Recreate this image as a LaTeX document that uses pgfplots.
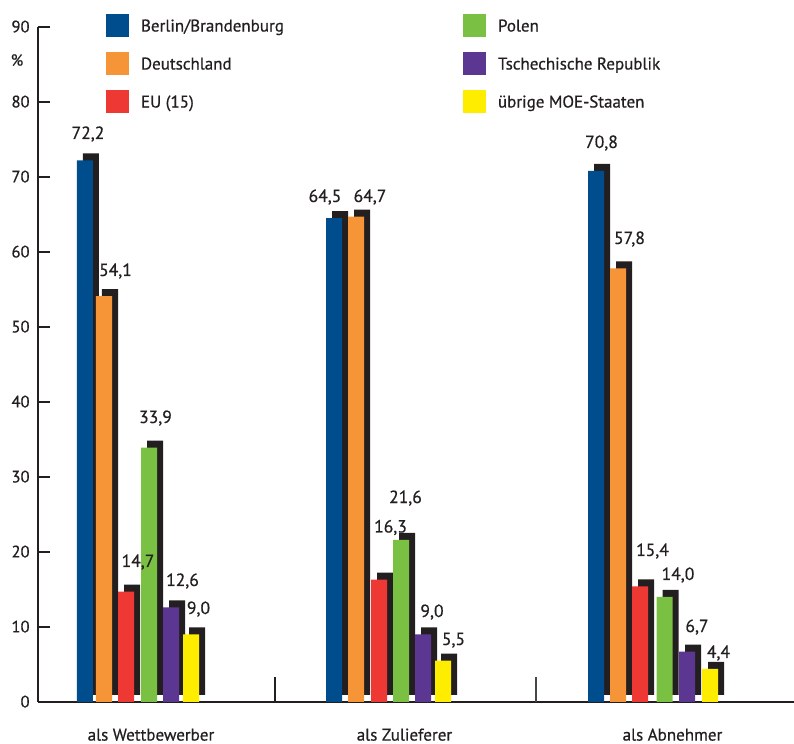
\documentclass[border=0pt]{standalone}
\usepackage{fontspec}
\setmainfont{PT Sans}[FakeBold=0.6]
\usepackage{pgfplots}
\usepackage{pgfplotstable}
\pgfplotsset{compat=1.18}
\definecolor{cBlue}{RGB}{0,77,141}
\definecolor{cOrange}{RGB}{246,148,56}
\definecolor{cRed}{RGB}{237,56,51}
\definecolor{cGreen}{RGB}{122,193,67}
\definecolor{cPurple}{RGB}{92,55,146}
\definecolor{cYellow}{RGB}{255,237,0}
\definecolor{cShadow}{RGB}{35,31,32}
\definecolor{cText}{RGB}{35,31,32}
\definecolor{cSep}{RGB}{70,70,70}

% x = horizontal position (pixel units of the layout), y = percent
\pgfplotstableread{
x y
85 72.2
334 64.5
596 70.8
}\tBerlin
\pgfplotstableread{
x y
104 54.1
356 64.7
618 57.8
}\tDeutschland
\pgfplotstableread{
x y
126 14.7
379 16.3
640 15.4
}\tEU
\pgfplotstableread{
x y
149 33.9
401 21.6
664.5 14.0
}\tPolen
\pgfplotstableread{
x y
171 12.6
423 9.0
687 6.7
}\tTschechien
\pgfplotstableread{
x y
191 9.0
443 5.5
710 4.4
}\tUebrige
% value labels: position and printed value
\pgfplotstableread{
x y v
88 75.07 72.2
115.5 56.8 54.1
138 18.0 14.7
155.5 37.2 33.9
182.5 15.47 12.6
198.5 11.73 9.0
325 66.67 64.5
370 66.67 64.7
390.5 22.6 16.3
405.5 26.53 21.6
432 11.33 9.0
453.5 7.6 5.5
601.5 73.87 70.8
629.5 61.07 57.8
652.5 19.47 15.4
678 16.27 14.0
697 9.33 6.7
718.5 5.87 4.4
}\tLabels

\pgfplotsset{
  colbar/.style={ybar, bar width=8pt, bar shift=0pt, draw=none, fill=#1, forget plot},
  shadbar/.style={ybar, bar width=8pt, bar shift=0pt, draw=none, fill=cShadow, xshift=3pt, yshift=3.5pt, forget plot},
}

\begin{document}
\begin{tikzpicture}
\useasboundingbox (-19pt,-21pt) rectangle (378pt,351pt);
\begin{axis}[
  at={(0,0)}, anchor=south west,
  scale only axis, width=378pt, height=337.5pt,
  xmin=38, xmax=794, ymin=0, ymax=90,
  clip=false,
  axis x line*=bottom, axis y line*=left,
  axis line style={cText, line width=0.8pt},
  ytick={0,10,...,90},
  ytick align=inside,
  major tick length=6pt,
  tick style={cText, line width=0.8pt},
  /pgf/number format/assume math mode=true,
  yticklabel style={font=\fontsize{8.3}{10}\selectfont, text=cText, inner sep=0pt, anchor=base east, xshift=-4pt, yshift=-2.7pt},
  xtick={151,404.5,672.5},
  xticklabels={als Wettbewerber, als Zulieferer, als Abnehmer},
  major x tick style={draw=none},
  xticklabel style={font=\fontsize{8.5}{10}\selectfont, text=cText, inner sep=0pt, anchor=base, yshift=-19.3pt},
  ylabel={\%},
  every axis y label/.style={at={(axis description cs:-0.0278,0.951)}, anchor=center, font=\fontsize{8}{10}\selectfont, text=cText},
  legend columns=2, legend cell align=left,
  legend image code/.code={\path[draw=none, fill=none] (0pt,-5.75pt) rectangle (17.5pt,5.75pt); \fill[#1] (0pt,-5.75pt) rectangle (11.5pt,5.75pt);},
  legend style={at={(axis cs:106,91.73)}, anchor=north west, draw=none, fill=none, inner sep=0pt, outer sep=0pt, row sep=7.5pt, font=\fontsize{8.5}{10}\selectfont, text=cText, nodes={inner sep=0pt, text height=6pt, text depth=0pt}},
]
\addlegendimage{fill=cBlue, draw=none}
\addlegendentry{\makebox[161pt][l]{Berlin/Brandenburg}}
\addlegendimage{fill=cGreen, draw=none}
\addlegendentry{Polen}
\addlegendimage{fill=cOrange, draw=none}
\addlegendentry{\makebox[161pt][l]{Deutschland}}
\addlegendimage{fill=cPurple, draw=none}
\addlegendentry{Tschechische Republik}
\addlegendimage{fill=cRed, draw=none}
\addlegendentry{\makebox[161pt][l]{EU (15)}}
\addlegendimage{fill=cYellow, draw=none}
\addlegendentry{übrige MOE-Staaten}

% shadows
\addplot[shadbar] table {\tBerlin};
\addplot[shadbar] table {\tDeutschland};
\addplot[shadbar] table {\tEU};
\addplot[shadbar] table {\tPolen};
\addplot[shadbar] table {\tTschechien};
\addplot[shadbar] table {\tUebrige};
% bars
\addplot[colbar=cBlue] table {\tBerlin};
\addplot[colbar=cOrange] table {\tDeutschland};
\addplot[colbar=cRed] table {\tEU};
\addplot[colbar=cGreen] table {\tPolen};
\addplot[colbar=cPurple] table {\tTschechien};
\addplot[colbar=cYellow] table {\tUebrige};
% group separators
\addplot[cText, line width=0.8pt, forget plot] coordinates {(275,0) (275,3.33)};
\addplot[cSep, line width=0.8pt, forget plot] coordinates {(536,0) (536,3.33)};
% value labels
\addplot[draw=none, forget plot, point meta=explicit,
  nodes near coords={\pgfmathprintnumber[fixed,fixed zerofill,precision=1,use comma]{\pgfplotspointmeta}},
  every node near coord/.append style={anchor=base, inner sep=0pt, font=\fontsize{8.8}{10}\selectfont, text=cText}]
  table[x=x, y=y, meta=v] {\tLabels};
\end{axis}
\end{tikzpicture}
\end{document}
